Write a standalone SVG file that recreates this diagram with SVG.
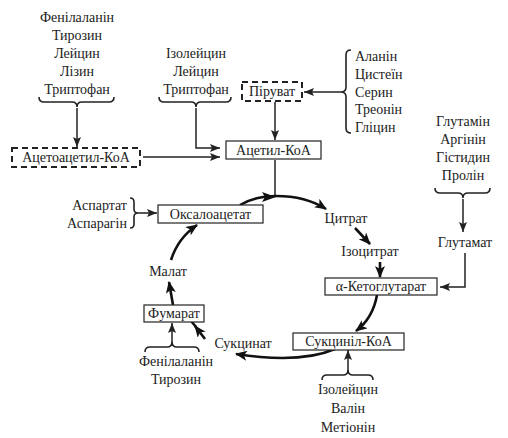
<svg xmlns="http://www.w3.org/2000/svg" width="508" height="438" viewBox="0 0 508 438" font-family="'Liberation Serif', 'DejaVu Serif', serif" font-size="14">
<defs>
<style>
text{fill:#222;}
.c{text-anchor:middle}
.r{text-anchor:end}
.box{fill:#fff;stroke:#222;stroke-width:1.2}
.dbox{fill:#fff;stroke:#222;stroke-width:2;stroke-dasharray:6 4}
.br{fill:none;stroke:#222;stroke-width:1.6}
.ln{fill:none;stroke:#222;stroke-width:1.5}
.th{fill:none;stroke:#111;stroke-width:2.6}
</style>
<marker id="a" viewBox="0 0 10 8" refX="10" refY="4" markerWidth="10" markerHeight="8" markerUnits="userSpaceOnUse" orient="auto">
<path d="M0,0 L10,4 L0,8 L2,4 Z" fill="#222"/>
</marker>
<marker id="t" viewBox="0 0 12 10" refX="11" refY="5" markerWidth="12" markerHeight="10" markerUnits="userSpaceOnUse" orient="auto">
<path d="M0,0 L12,5 L0,10 L3,5 Z" fill="#111"/>
</marker>
</defs>

<g id="connectors">
<path class="ln" d="M77,108 V147" marker-end="url(#a)"/>
<path class="ln" d="M196,108 V148 H220" marker-end="url(#a)"/>
<path class="ln" d="M143,157 H220" marker-end="url(#a)"/>
<path class="ln" d="M341,92 H304" marker-end="url(#a)"/>
<path class="ln" d="M275,102 V140" marker-end="url(#a)"/>
<path class="ln" d="M275,160 V196"/>
<path class="ln" d="M463,199 V232" marker-end="url(#a)"/>
<path class="ln" d="M465,253 V287 H440" marker-end="url(#a)"/>
<path class="ln" d="M138,213 H157" marker-end="url(#a)"/>
<path class="ln" d="M172,346 V323" marker-end="url(#a)"/>
<path class="ln" d="M348,371 V350" marker-end="url(#a)"/>

<path class="th" d="M240,205 C252,198 262,196 276,196 C295,196 312,200 326,209" marker-end="url(#t)"/>
<path d="M262,192 L276,197 L262,202 L265,197 Z" fill="#111"/>
<path class="th" d="M355,228 L370,244" marker-end="url(#t)"/>
<path class="th" d="M380,262 L380,277" marker-end="url(#t)"/>
<path class="th" d="M377,295 Q373,318 356,331" marker-end="url(#t)"/>
<path class="th" d="M335,349 Q300,364 236,354" marker-end="url(#t)"/>
<path class="th" d="M205,339 L195,326" marker-end="url(#t)"/>
<path class="th" d="M196,327 L187,316"/>
<path class="th" d="M173,305 L169,282" marker-end="url(#t)"/>
<path class="th" d="M171,260 Q178,238 197,225" marker-end="url(#t)"/>
</g>

<g id="g-fenil">
<text class="c" x="77" y="22">Фенілаланін</text>
<text class="c" x="77" y="40">Тирозин</text>
<text class="c" x="77" y="58">Лейцин</text>
<text class="c" x="77" y="76">Лізин</text>
<text class="c" x="77" y="94">Триптофан</text>
<path class="br" d="M39,97 q0,5 5,5 H72 q5,0 5,5 q0,-5 5,-5 H109 q5,0 5,-5"/>
</g>

<g id="g-izol">
<text class="c" x="196" y="58">Ізолейцин</text>
<text class="c" x="196" y="76">Лейцин</text>
<text class="c" x="196" y="94">Триптофан</text>
<path class="br" d="M159,97 q0,5 5,5 H191 q5,0 5,5 q0,-5 5,-5 H226 q5,0 5,-5"/>
</g>

<g id="g-alanin">
<text x="355" y="61">Аланін</text>
<text x="355" y="79">Цистеїн</text>
<text x="355" y="97">Серин</text>
<text x="355" y="114">Треонін</text>
<text x="355" y="132">Гліцин</text>
<path class="br" d="M351,50 q-5,0 -5,5 V87 q0,5 -5,5 q5,0 5,5 V128 q0,5 5,5"/>
</g>

<g id="g-glutamin">
<text class="c" x="463" y="126">Глутамін</text>
<text class="c" x="463" y="144">Аргінін</text>
<text class="c" x="463" y="162">Гістидин</text>
<text class="c" x="463" y="180">Пролін</text>
<path class="br" d="M435,188 q0,5 5,5 H458 q5,0 5,5 q0,-5 5,-5 H485 q5,0 5,-5"/>
</g>

<g id="n-acetoacetyl">
<rect class="dbox" x="12" y="148" width="128" height="19"/>
<text class="c" x="76" y="162">Ацетоацетил-КоА</text>
</g>

<g id="n-piruvat">
<rect class="dbox" x="242" y="82" width="60" height="19"/>
<text class="c" x="272" y="96">Піруват</text>
</g>

<g id="n-acetyl">
<rect class="box" x="226" y="141" width="95" height="18"/>
<text class="c" x="273.5" y="155">Ацетил-КоА</text>
</g>

<g id="n-oxalo">
<rect class="box" x="158" y="205" width="105" height="18"/>
<text class="c" x="210.5" y="219">Оксалоацетат</text>
</g>

<g id="n-aspartat">
<text class="r" x="127" y="210">Аспартат</text>
<text class="r" x="127" y="228">Аспарагін</text>
<path class="br" d="M130,198 q4,0 4,4 V209 q0,4 4,4 q-4,0 -4,4 V224 q0,4 -4,4"/>
</g>

<g id="n-citrat">
<text class="c" x="346" y="223">Цитрат</text>
</g>

<g id="n-izocitrat">
<text class="c" x="370" y="256">Ізоцитрат</text>
</g>

<g id="n-glutamat">
<text class="c" x="465" y="247">Глутамат</text>
</g>

<g id="n-ketoglut">
<rect class="box" x="325" y="278" width="112" height="17"/>
<text class="c" x="381" y="291">α-Кетоглутарат</text>
</g>

<g id="n-malat">
<text class="c" x="168" y="276">Малат</text>
</g>

<g id="n-fumarat">
<rect class="box" x="144" y="305" width="60" height="17"/>
<text class="c" x="174" y="318">Фумарат</text>
</g>

<g id="n-sukcinat">
<text class="c" x="243" y="348">Сукцинат</text>
</g>

<g id="n-sukcinilcoa">
<rect class="box" x="293" y="333" width="111" height="17"/>
<text class="c" x="348.5" y="346">Сукциніл-КоА</text>
</g>

<g id="g-fenil2">
<path class="br" d="M145,352 q0,-5 5,-5 H167 q5,0 5,-5 q0,5 5,5 H194 q5,0 5,5"/>
<text class="c" x="176" y="366">Фенілаланін</text>
<text class="c" x="176" y="384">Тирозин</text>
</g>

<g id="g-izol2">
<path class="br" d="M322,380 q0,-5 5,-5 H343 q5,0 5,-5 q0,5 5,5 H368 q5,0 5,5"/>
<text class="c" x="348" y="394">Ізолейцин</text>
<text class="c" x="348" y="413">Валін</text>
<text class="c" x="348" y="432">Метіонін</text>
</g>
</svg>
